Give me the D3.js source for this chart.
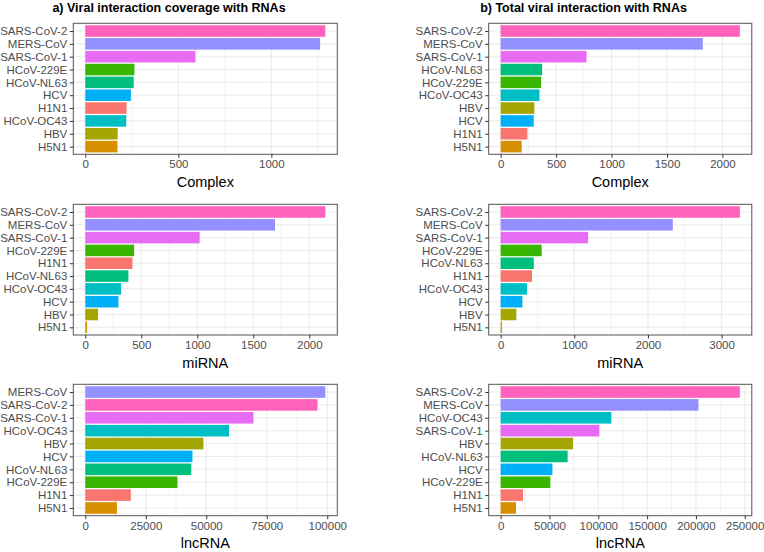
<!DOCTYPE html>
<html>
<head>
<meta charset="utf-8">
<script src="https://cdn.jsdelivr.net/npm/d3@7"></script>
<style>
  html, body { margin: 0; padding: 0; background: #fff; }
  svg { display: block; font-family: "Liberation Sans", Arial, Helvetica, sans-serif; }
</style>
</head>
<body>
<svg id="chart" width="764" height="552"></svg>
<script>
// ---------- DATA ----------
const titleA = "a) Viral interaction coverage with RNAs";
const titleB = "b) Total viral interaction with RNAs";

// a) coverage
const covComplexCats = ["SARS-CoV-2","MERS-CoV","SARS-CoV-1","HCoV-229E","HCoV-NL63","HCV","H1N1","HCoV-OC43","HBV","H5N1"];
const covComplexVals = [1290, 1262, 592, 264, 260, 245, 222, 220, 174, 173];
const covComplexTicks = [0, 500, 1000];

const covMirnaCats = ["SARS-CoV-2","MERS-CoV","SARS-CoV-1","HCoV-229E","H1N1","HCoV-NL63","HCoV-OC43","HCV","HBV","H5N1"];
const covMirnaVals = [2143, 1694, 1021, 436, 421, 385, 320, 296, 114, 16];
const covMirnaTicks = [0, 500, 1000, 1500, 2000];

const covLncCats = ["MERS-CoV","SARS-CoV-2","SARS-CoV-1","HCoV-OC43","HBV","HCV","HCoV-NL63","HCoV-229E","H1N1","H5N1"];
const covLncVals = [99200, 96000, 69500, 59400, 48800, 44300, 43800, 38100, 18800, 13100];
const covLncTicks = [0, 25000, 50000, 75000, 100000];

// b) total
const totComplexCats = ["SARS-CoV-2","MERS-CoV","SARS-CoV-1","HCoV-NL63","HCoV-229E","HCoV-OC43","HBV","HCV","H1N1","H5N1"];
const totComplexVals = [2157, 1823, 774, 374, 365, 350, 304, 298, 241, 190];
const totComplexTicks = [0, 500, 1000, 1500, 2000];

const totMirnaCats = ["SARS-CoV-2","MERS-CoV","SARS-CoV-1","HCoV-229E","HCoV-NL63","H1N1","HCoV-OC43","HCV","HBV","H5N1"];
const totMirnaVals = [3248, 2338, 1187, 557, 449, 426, 358, 295, 213, 18];
const totMirnaTicks = [0, 1000, 2000, 3000];

const totLncCats = ["SARS-CoV-2","MERS-CoV","HCoV-OC43","SARS-CoV-1","HBV","HCoV-NL63","HCV","HCoV-229E","H1N1","H5N1"];
const totLncVals = [245000, 202600, 113400, 101100, 74100, 68600, 53000, 50900, 22900, 15700];
const totLncTicks = [0, 50000, 100000, 150000, 200000, 250000];

const axisTitles = ["Complex", "miRNA", "lncRNA"];

// virus colour mapping (ggplot hue palette, alphabetical)
const virusOrder = ["H1N1","H5N1","HBV","HCoV-229E","HCoV-NL63","HCoV-OC43","HCV","MERS-CoV","SARS-CoV-1","SARS-CoV-2"];
const virusColors = ["#F8766D","#D89000","#A3A500","#39B600","#00BF7D","#00BFC4","#00B0F6","#9590FF","#E76BF3","#FF62BC"];

// ---------- LAYOUT ----------
const svg = d3.select("#chart");
const color = d3.scaleOrdinal().domain(virusOrder).range(virusColors);

const colX = [[73.3, 337.3], [488.7, 751.8]];
const rowY = [[23.3, 154.3], [204.3, 335.0], [384.3, 515.7]];

const panels = [
  {col:0,row:0,cats:covComplexCats,vals:covComplexVals,ticks:covComplexTicks},
  {col:0,row:1,cats:covMirnaCats,vals:covMirnaVals,ticks:covMirnaTicks},
  {col:0,row:2,cats:covLncCats,vals:covLncVals,ticks:covLncTicks},
  {col:1,row:0,cats:totComplexCats,vals:totComplexVals,ticks:totComplexTicks},
  {col:1,row:1,cats:totMirnaCats,vals:totMirnaVals,ticks:totMirnaTicks},
  {col:1,row:2,cats:totLncCats,vals:totLncVals,ticks:totLncTicks},
];

panels.forEach(p => {
  const [x0, x1] = colX[p.col];
  const [y0, y1] = rowY[p.row];
  const max = d3.max(p.vals);
  const x = d3.scaleLinear().domain([-0.05 * max, 1.05 * max]).range([x0, x1]);
  const y = d3.scalePoint().domain(p.cats).range([y0, y1]).padding(0.6);
  const bh = y.step() * 0.9;
  const g = svg.append("g");

  g.append("rect").attr("x", x0).attr("y", y0).attr("width", x1 - x0).attr("height", y1 - y0).attr("fill", "#fff");

  // minor grid
  const step = p.ticks[1] - p.ticks[0];
  const minor = [];
  for (let i = 0; i < p.ticks.length + 1; i++) {
    const v = p.ticks[0] - step / 2 + i * step;
    const px = x(v);
    if (px > x0 && px < x1) minor.push(v);
  }
  g.selectAll(".minor").data(minor).join("line")
    .attr("x1", d => x(d)).attr("x2", d => x(d)).attr("y1", y0).attr("y2", y1)
    .attr("stroke", "#EBEBEB").attr("stroke-width", 0.6);
  g.selectAll(".majorx").data(p.ticks).join("line")
    .attr("x1", d => x(d)).attr("x2", d => x(d)).attr("y1", y0).attr("y2", y1)
    .attr("stroke", "#EBEBEB").attr("stroke-width", 1.1);
  g.selectAll(".majory").data(p.cats).join("line")
    .attr("x1", x0).attr("x2", x1).attr("y1", d => y(d)).attr("y2", d => y(d))
    .attr("stroke", "#EBEBEB").attr("stroke-width", 1.1);

  // bars
  g.selectAll(".bar").data(p.cats.map((c, i) => ({c, v: p.vals[i]}))).join("rect")
    .attr("x", x(0)).attr("y", d => y(d.c) - bh / 2)
    .attr("width", d => x(d.v) - x(0)).attr("height", bh)
    .attr("fill", d => color(d.c));

  // border
  g.append("rect").attr("x", x0).attr("y", y0).attr("width", x1 - x0).attr("height", y1 - y0)
    .attr("fill", "none").attr("stroke", "#555").attr("stroke-width", 1);

  // x axis
  const xAxis = d3.axisBottom(x).tickValues(p.ticks).tickSize(3.5).tickPadding(2.5).tickFormat(d3.format("d"));
  const gx = g.append("g").attr("transform", `translate(0,${y1})`).call(xAxis);
  gx.select(".domain").remove();
  gx.selectAll(".tick line").attr("stroke", "#333").attr("stroke-width", 1);
  gx.selectAll(".tick text").attr("fill", "#4D4D4D").style("font-size", "11.5px")
    .style("font-family", "Liberation Sans, Arial, sans-serif");

  // y axis
  const yAxis = d3.axisLeft(y).tickSize(3.5).tickPadding(2.5);
  const gy = g.append("g").attr("transform", `translate(${x0},0)`).call(yAxis);
  gy.select(".domain").remove();
  gy.selectAll(".tick line").attr("stroke", "#333").attr("stroke-width", 1);
  gy.selectAll(".tick text").attr("fill", "#4D4D4D").style("font-size", "11.5px")
    .style("font-family", "Liberation Sans, Arial, sans-serif");

  // axis title
  g.append("text").attr("x", (x0 + x1) / 2).attr("y", y1 + 32.5)
    .attr("text-anchor", "middle").attr("fill", "#000").style("font-size", "14.5px")
    .text(axisTitles[p.row]);
});

// column titles
svg.append("text").attr("x", 169).attr("y", 12).attr("text-anchor", "middle")
  .style("font-size", "12.5px").style("font-weight", "bold").attr("fill", "#000").text(titleA);
svg.append("text").attr("x", 583.5).attr("y", 12).attr("text-anchor", "middle")
  .style("font-size", "12.5px").style("font-weight", "bold").attr("fill", "#000").text(titleB);
</script>
</body>
</html>
